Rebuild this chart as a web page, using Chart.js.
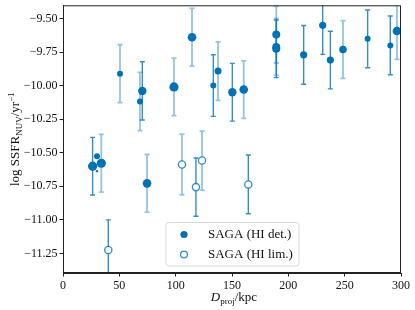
<!DOCTYPE html>
<html>
<head>
<meta charset="utf-8">
<script src="https://cdn.jsdelivr.net/npm/chart.js@4.4.1/dist/chart.umd.min.js"></script>
<style>
html, body { margin: 0; padding: 0; background: #fff; }
#wrap { width: 415px; height: 310px; }
</style>
</head>
<body>
<div id="wrap"><canvas id="chart"></canvas></div>
<script>
/* --------------- Data: HI detections --------------------- */
const detX = [26.3, 30.2, 30.2, 34.0, 50.6, 68.3, 70.4, 74.6, 98.5, 114.5, 133.4, 137.6, 150.3, 160.4,
    189.3, 189.3, 189.3, 213.6, 230.5, 237.3, 248.5, 270.4, 290.5, 296.4];
const detY = [-10.60, -10.526, -10.637, -10.578, -9.911, -10.118, -10.039, -10.728, -10.009, -9.639, -9.999, -9.891, -10.049, -10.029,
    -9.619, -9.711, -9.725, -9.770, -9.550, -9.809, -9.730, -9.651, -9.700, -9.592];
const detErr = [0.215, 0, 0, 0.215, 0.216, 0.217, 0.217, 0.215, 0.214, 0.215, 0.23, 0.218, 0.215, 0.214,
    0.212, 0.212, 0.215, 0.219, 0.217, 0.215, 0.215, 0.215, 0.219, 0.212];
const detFaint = [false, false, false, true, true, true, false, true, true, true, false, true, false, true,
    true, true, false, false, false, false, true, false, false, true];
const detSize = [4.6, 3, 1.2, 4.6, 3, 3, 4.2, 4.3, 4.6, 4.3, 3, 3.5, 4.2, 4.3,
    4, 4, 4, 3.6, 3.6, 3.6, 3.8, 3, 3, 4.3];

/* --------------- Data: HI limits --------------------- */
const limX = [40.2, 105.6, 118.0, 123.4, 164.5];
const limY = [-11.225, -10.587, -10.756, -10.558, -10.736];
const limErr = [0.225, 0.226, 0.217, 0.22, 0.219];
const limFaint = [false, true, false, true, false];

/* --------------- Axes --------------------- */
const xTicks = [0, 50, 100, 150, 200, 250, 300];
const yTicks = [-11.25, -11.0, -10.75, -10.5, -10.25, -10.0, -9.75, -9.5];

const blue = "#0072b2";
const barDark = "rgba(0,114,178,0.8)";
const barLight = "rgba(0,114,178,0.42)";
const serif = "'Liberation Serif', 'DejaVu Serif', serif";

const toPoints = (xs, ys) => xs.map((x, i) => ({ x: x, y: ys[i] }));

/* --------------- Error bars under the markers --------------------- */
const errorBars = {
    id: "errorBars",
    beforeDatasetsDraw(chart) {
        const { ctx, chartArea, scales } = chart;
        const sets = [[detX, detY, detErr, detFaint], [limX, limY, limErr, limFaint]];
        ctx.save();
        ctx.beginPath();
        ctx.rect(chartArea.left, chartArea.top, chartArea.right - chartArea.left, chartArea.bottom - chartArea.top);
        ctx.clip();
        for (const [xs, ys, es, faint] of sets) {
            xs.forEach((xv, i) => {
                if (!es[i]) return;
                const px = scales.x.getPixelForValue(xv);
                const top = scales.y.getPixelForValue(ys[i] + es[i]);
                const bot = scales.y.getPixelForValue(ys[i] - es[i]);
                ctx.strokeStyle = faint[i] ? barLight : barDark;
                ctx.lineWidth = faint[i] ? 1.8 : 1.4;
                ctx.beginPath();
                ctx.moveTo(px, top);
                ctx.lineTo(px, bot);
                ctx.moveTo(px - 2.5, top);
                ctx.lineTo(px + 2.5, top);
                ctx.moveTo(px - 2.5, bot);
                ctx.lineTo(px + 2.5, bot);
                ctx.stroke();
            });
        }
        ctx.restore();
    },
};

/* --------------- Frame, titles, legend --------------------- */
const drawRich = (ctx, parts, x, y) => {
    let total = 0;
    parts.forEach((p) => {
        ctx.font = (p.italic ? "italic " : "") + p.size + "px " + serif;
        p.w = ctx.measureText(p.t).width;
        total += p.w;
    });
    let cx = x - total / 2;
    parts.forEach((p) => {
        ctx.font = (p.italic ? "italic " : "") + p.size + "px " + serif;
        ctx.fillText(p.t, cx, y + (p.dy || 0));
        cx += p.w;
    });
};

const decorations = {
    id: "decorations",
    afterDraw(chart) {
        const { ctx, chartArea: a } = chart;
        ctx.save();
        ctx.strokeStyle = "#222";
        ctx.lineWidth = 1;
        ctx.strokeRect(a.left + 0.5, a.top + 0.5, a.right - a.left - 1, a.bottom - a.top - 1);

        ctx.fillStyle = "#111";
        ctx.textBaseline = "alphabetic";
        ctx.textAlign = "left";
        // x title
        drawRich(ctx, [
            { t: "D", size: 13, italic: true },
            { t: "proj", size: 9, dy: 3 },
            { t: "/kpc", size: 13 },
        ], (a.left + a.right) / 2 + 2, 301);
        // y title
        ctx.save();
        ctx.translate(19, (a.top + a.bottom) / 2);
        ctx.rotate(-Math.PI / 2);
        drawRich(ctx, [
            { t: "log SSFR", size: 13 },
            { t: "NUV", size: 9, dy: 3 },
            { t: "/yr", size: 13 },
            { t: "\u22121", size: 9, dy: -5 },
        ], 0, 0);
        ctx.restore();

        // legend
        const lx = 166, ly = 222.5, lw = 133, lh = 43.5, r = 3;
        ctx.beginPath();
        ctx.moveTo(lx + r, ly);
        ctx.arcTo(lx + lw, ly, lx + lw, ly + lh, r);
        ctx.arcTo(lx + lw, ly + lh, lx, ly + lh, r);
        ctx.arcTo(lx, ly + lh, lx, ly, r);
        ctx.arcTo(lx, ly, lx + lw, ly, r);
        ctx.closePath();
        ctx.fillStyle = "rgba(255,255,255,0.85)";
        ctx.fill();
        ctx.strokeStyle = "#d8d8d8";
        ctx.stroke();

        ctx.beginPath();
        ctx.arc(184, 234.5, 3.6, 0, Math.PI * 2);
        ctx.fillStyle = blue;
        ctx.fill();
        ctx.beginPath();
        ctx.arc(184, 254.5, 3.4, 0, Math.PI * 2);
        ctx.fillStyle = "#fff";
        ctx.fill();
        ctx.strokeStyle = barDark;
        ctx.lineWidth = 1.3;
        ctx.stroke();

        ctx.fillStyle = "#111";
        ctx.font = "13px " + serif;
        ctx.textBaseline = "middle";
        ctx.fillText("SAGA (HI det.)", 208, 234.5);
        ctx.fillText("SAGA (HI lim.)", 208, 254.5);
        ctx.restore();
    },
};

/* --------------- Chart --------------------- */
const tickFmt = (v) => v.toFixed(2).replace("-", "\u2212");

new Chart(document.getElementById("chart"), {
    type: "scatter",
    plugins: [errorBars, decorations],
    data: {
        datasets: [
            {
                label: "SAGA (HI det.)",
                data: toPoints(detX, detY),
                pointRadius: detSize,
                pointBackgroundColor: blue,
                pointBorderColor: blue,
                pointBorderWidth: 0,
            },
            {
                label: "SAGA (HI lim.)",
                data: toPoints(limX, limY),
                pointRadius: 3.6,
                pointBackgroundColor: "#fff",
                pointBorderColor: barDark,
                pointBorderWidth: 1.3,
            },
        ],
    },
    options: {
        responsive: true,
        maintainAspectRatio: false,
        animation: { duration: 0 },
        layout: { padding: { top: 4, right: 14, left: 0, bottom: 0 } },
        plugins: {
            legend: { display: false },
            tooltip: { enabled: false },
        },
        scales: {
            x: {
                type: "linear",
                min: 0,
                max: 300,
                afterBuildTicks: (s) => { s.ticks = xTicks.map((v) => ({ value: v })); },
                afterFit: (s) => { s.height = 37; s.paddingLeft = 0; s.paddingRight = 0; },
                grid: { drawOnChartArea: false, tickLength: 3.5, color: "#222" },
                border: { color: "#222" },
                ticks: { font: { family: serif, size: 12 }, color: "#111", padding: 2, maxRotation: 0, callback: (v) => String(v) },
            },
            y: {
                type: "linear",
                min: -11.396,
                max: -9.401,
                afterBuildTicks: (s) => { s.ticks = yTicks.map((v) => ({ value: v })); },
                afterFit: (s) => { s.width = 63; s.paddingTop = 0; s.paddingBottom = 0; },
                grid: { drawOnChartArea: false, tickLength: 3.5, color: "#222" },
                border: { color: "#222" },
                ticks: { font: { family: serif, size: 12 }, color: "#111", padding: 2, callback: (v) => tickFmt(v) },
            },
        },
    },
});
</script>
</body>
</html>
